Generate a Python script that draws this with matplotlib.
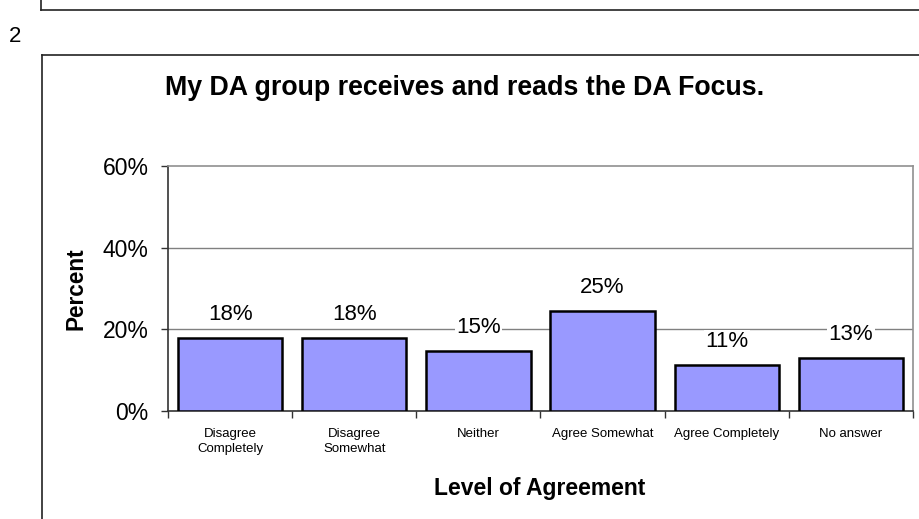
import matplotlib
matplotlib.use("Agg")
import matplotlib.pyplot as plt
from matplotlib.lines import Line2D

plt.rcParams['font.family'] = ['Liberation Sans', 'DejaVu Sans']

categories = ["Disagree\nCompletely", "Disagree\nSomewhat", "Neither",
              "Agree Somewhat", "Agree Completely", "No answer"]
values = [17.9, 17.9, 14.7, 24.6, 11.3, 13.0]
labels = ["18%", "18%", "15%", "25%", "11%", "13%"]
yticks = [0, 20, 40, 60]
ytick_labels = ["0%", "20%", "40%", "60%"]
title = "My DA group receives and reads the DA Focus."
page_number = "2"

W, H = 920, 519
fig = plt.figure(figsize=(W / 100, H / 100), dpi=100)

def fx(px):
    return px / W

def fy(py):
    return 1 - py / H

# page decorations
fig.add_artist(Line2D([fx(41), fx(920)], [fy(10), fy(10)], color='#222222', lw=1.2))
fig.add_artist(Line2D([fx(41), fx(41)], [fy(0), fy(10)], color='#222222', lw=1.2))
fig.text(fx(15), fy(36), page_number, fontsize=16, ha='center', va='center')
# chart frame
fig.add_artist(Line2D([fx(42), fx(920)], [fy(55), fy(55)], color='#222222', lw=1.2))
fig.add_artist(Line2D([fx(42), fx(42)], [fy(55), fy(519)], color='#222222', lw=1.2))

ax = fig.add_axes([fx(168), fy(411), fx(913) - fx(168), fy(166) - fy(411)])
x = list(range(len(categories)))
ax.bar(x, values, width=0.84, color='#9999FF', edgecolor='black', linewidth=1.8, zorder=3)
ax.set_xlim(-0.5, len(categories) - 0.5)
ax.set_ylim(0, 60)

ax.set_yticks(yticks)
ax.set_yticklabels(ytick_labels, fontsize=16.5)
ax.tick_params(axis='y', length=5, width=1, color='#333333', pad=9)
for yv in yticks[1:3]:
    ax.axhline(yv, color='#808080', lw=1, zorder=1)

ax.set_xticks(x)
ax.set_xticklabels(categories, fontsize=9.5, linespacing=1.35)
ax.tick_params(axis='x', which='major', length=0, pad=12)
ax.set_xticks([i + 0.5 for i in range(-1, len(categories))], minor=True)
ax.tick_params(axis='x', which='minor', length=5, width=1, color='#333333')

for s in ['top', 'right']:
    ax.spines[s].set_color('#909090')
    ax.spines[s].set_linewidth(1.2)
ax.spines['left'].set_color('#333333')
ax.spines['bottom'].set_color('#333333')
ax.spines['left'].set_linewidth(1.2)
ax.spines['bottom'].set_linewidth(1.2)

for xi, v, lab in zip(x, values, labels):
    ax.annotate(lab, (xi, v), xytext=(0, 23), textcoords='offset pixels',
                ha='center', va='center', fontsize=16, zorder=4,
                bbox=dict(facecolor='white', edgecolor='none', pad=1.0))

fig.text(fx(465), fy(88), title, fontsize=19.3, fontweight='bold', ha='center', va='center')
fig.text(fx(540), fy(488), "Level of Agreement", fontsize=16.5, fontweight='bold', ha='center', va='center')
fig.text(fx(76), fy(289), "Percent", fontsize=16.3, fontweight='bold', ha='center', va='center', rotation=90)

fig.savefig("out.png", dpi=100)
